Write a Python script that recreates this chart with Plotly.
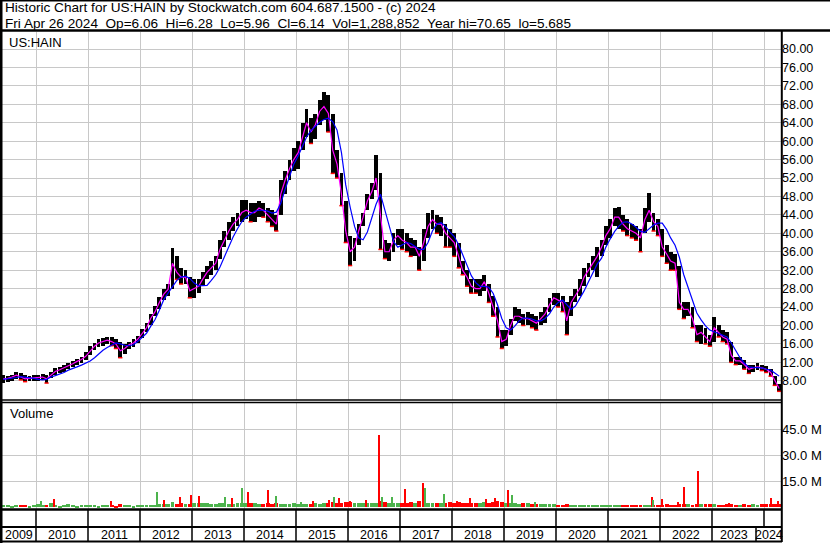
import numpy as np
import pandas as pd
import plotly.graph_objects as go

# ---------------- DATA (monthly) ----------------
months = pd.period_range("2009-05", "2024-04", freq="M")

cl = [
    8.4, 8.5, 8.8, 9.2, 8.8, 8.4, 8.5, 8.6,                                  # 2009 May-Dec
    8.6, 8.8, 8.4, 9.2, 10.0, 10.4, 10.8, 11.2, 11.7, 12.2, 12.6, 13.3,      # 2010
    14.5, 15.5, 16.2, 16.5, 16.8, 16.5, 16.0, 14.5, 15.0, 15.8, 16.2, 17.0,  # 2011
    18.3, 19.5, 21.5, 23.0, 25.0, 26.8, 27.8, 33.5, 31.5, 30.5, 30.5, 27.5,  # 2012
    28.0, 28.5, 30.0, 31.5, 32.5, 33.5, 36.5, 38.5, 40.5, 42.0, 43.0, 44.5,  # 2013
    45.0, 44.5, 44.5, 45.5, 45.0, 44.0, 43.0, 42.0, 48.5, 51.5, 54.0, 56.0,  # 2014
    57.5, 61.0, 64.0, 62.0, 63.5, 66.5, 67.5, 66.0, 58.0, 55.0, 48.5, 40.5,  # 2015
    36.0, 37.0, 40.5, 43.5, 47.0, 49.0, 52.0, 44.0, 36.0, 36.0, 38.5, 39.5,  # 2016
    38.5, 38.0, 37.0, 37.0, 35.0, 38.0, 41.5, 43.0, 42.0, 42.0, 40.0, 39.0,  # 2017
    38.0, 35.0, 32.0, 30.5, 28.5, 28.0, 28.0, 29.5, 27.0, 24.0, 21.0, 16.5,  # 2018
    17.0, 20.0, 22.0, 22.0, 21.5, 21.5, 21.0, 20.5, 21.5, 22.5, 24.5, 26.0,  # 2019
    25.5, 25.0, 21.0, 25.0, 26.5, 28.0, 30.5, 32.0, 33.5, 35.0, 37.0, 39.5,  # 2020
    41.0, 43.5, 43.5, 42.0, 41.0, 40.5, 40.0, 39.0, 43.0, 45.0, 42.5, 41.5,  # 2021
    37.0, 35.5, 34.0, 33.5, 25.0, 23.5, 23.5, 21.5, 18.0, 18.5, 17.5, 16.5,  # 2022
    19.5, 18.5, 17.5, 17.0, 13.5, 12.3, 12.3, 11.5, 10.5, 10.8, 11.0, 10.8,  # 2023
    10.5, 9.8, 8.0, 6.3,                                                     # 2024 Jan-Apr
]
hi = [
    9.2, 9.0, 9.3, 9.9, 9.7, 9.2, 9.0, 9.2,
    9.3, 9.4, 9.2, 9.8, 10.8, 11.0, 11.4, 11.8, 12.3, 12.8, 13.2, 14.2,
    15.5, 16.3, 17.0, 17.3, 17.5, 17.5, 17.0, 16.5, 16.0, 16.5, 17.0, 17.8,
    19.2, 20.5, 22.5, 24.2, 26.2, 28.0, 29.0, 36.8, 35.0, 32.5, 32.0, 30.5,
    30.0, 30.0, 31.5, 33.0, 34.0, 35.0, 38.5, 40.5, 42.5, 43.5, 44.5, 47.2,
    47.2, 46.5, 46.5, 47.0, 46.5, 45.5, 45.0, 44.0, 51.5, 53.5, 56.0, 58.5,
    60.0, 64.0, 67.0, 65.0, 66.0, 69.0, 70.7, 70.0, 66.0, 58.0, 53.0, 47.0,
    39.5, 39.0, 42.0, 44.5, 48.5, 51.0, 57.0, 53.0, 38.5, 38.0, 40.0, 41.0,
    41.0, 40.0, 39.0, 38.5, 37.0, 41.0, 44.5, 45.0, 44.0, 43.5, 42.0, 41.0,
    40.0, 38.0, 34.0, 32.0, 30.0, 30.0, 30.0, 31.0, 29.0, 26.5, 24.0, 19.0,
    19.0, 21.5, 24.0, 23.5, 22.5, 23.0, 22.5, 22.0, 23.0, 24.0, 26.0, 27.0,
    27.0, 26.5, 25.0, 26.5, 28.0, 30.0, 32.5, 33.5, 35.0, 37.0, 38.5, 41.5,
    43.0, 45.5, 45.7, 44.0, 43.0, 42.0, 41.5, 41.0, 45.5, 48.7, 44.5, 43.0,
    41.0, 37.5, 36.0, 35.5, 33.0, 25.0, 25.0, 24.0, 20.0, 20.0, 19.5, 18.0,
    21.8, 20.0, 19.0, 18.5, 16.5, 13.2, 13.2, 12.5, 11.5, 11.5, 11.8, 11.5,
    11.2, 10.5, 9.0, 7.2,
]
lo = [
    7.6, 7.8, 7.9, 8.3, 8.2, 7.8, 7.9, 8.0,
    8.0, 8.2, 7.5, 8.5, 9.3, 9.6, 10.0, 10.5, 11.0, 11.5, 11.8, 12.5,
    13.5, 14.6, 15.3, 15.6, 16.0, 15.6, 15.0, 13.0, 13.8, 14.8, 15.4, 16.2,
    17.2, 18.5, 20.0, 22.0, 23.5, 25.5, 26.5, 28.0, 30.0, 29.0, 29.0, 26.0,
    26.0, 27.0, 28.8, 30.0, 31.0, 32.0, 34.5, 37.0, 38.5, 40.5, 41.5, 42.5,
    43.0, 42.5, 42.5, 43.5, 43.5, 42.5, 41.5, 40.5, 44.0, 48.5, 51.5, 53.5,
    54.0, 58.0, 61.0, 59.5, 60.5, 63.5, 64.5, 62.0, 53.0, 52.0, 46.0, 38.0,
    33.0, 34.0, 37.5, 41.5, 45.0, 47.5, 49.5, 36.5, 34.5, 34.0, 36.0, 37.5,
    36.5, 36.0, 35.0, 35.0, 32.0, 34.0, 39.0, 41.0, 40.0, 39.5, 37.0, 37.0,
    35.0, 32.5, 31.0, 28.5, 27.0, 27.0, 26.5, 27.5, 25.0, 22.0, 17.5, 15.0,
    15.5, 18.0, 21.0, 20.5, 20.0, 20.0, 19.5, 19.0, 20.0, 20.5, 23.0, 24.5,
    24.0, 23.0, 18.0, 22.0, 25.0, 26.5, 28.5, 30.5, 32.0, 30.5, 35.0, 37.5,
    39.0, 41.5, 41.0, 40.5, 39.5, 39.0, 38.5, 36.0, 40.0, 42.5, 40.5, 39.5,
    35.0, 33.5, 32.0, 32.0, 23.5, 21.5, 22.0, 19.5, 16.5, 16.0, 16.0, 15.5,
    16.5, 17.5, 16.5, 16.0, 12.0, 11.5, 11.5, 10.5, 9.6, 10.0, 10.3, 10.2,
    9.8, 9.0, 7.0, 5.7,
]
ma_long = [
    8.3, 8.4, 8.5, 8.7, 8.9, 8.8, 8.6, 8.5,
    8.3, 8.2, 8.3, 8.8, 9.1, 9.4, 9.8, 10.3, 10.6, 11.0, 11.4, 11.8,
    12.3, 13.0, 13.8, 14.6, 15.2, 15.8, 16.2, 16.0, 15.7, 15.6, 15.8, 16.5,
    17.3, 18.3, 19.8, 21.3, 23.3, 25.6, 27.0, 28.5, 29.8, 30.5, 30.7, 30.2,
    29.2, 28.6, 28.6, 28.7, 29.8, 31.0, 32.7, 35.0, 37.0, 39.2, 41.0, 42.5,
    43.5, 44.2, 44.8, 45.0, 45.0, 44.8, 44.4, 44.6, 46.5, 49.5, 52.5, 55.0,
    56.8, 58.8, 60.9, 62.3, 63.3, 64.1, 64.7, 65.0, 64.2, 62.4, 57.5, 50.5,
    45.7, 41.5, 39.0, 38.6, 40.3, 43.5, 46.3, 48.5, 45.0, 41.5, 38.2, 37.0,
    37.5, 38.0, 37.8, 37.2, 36.5, 36.5, 38.0, 40.5, 42.0, 42.3, 41.5, 40.3,
    39.3, 37.5, 35.3, 33.0, 30.8, 29.3, 28.5, 28.5, 28.3, 27.0, 24.5, 21.5,
    19.5, 19.0, 19.8, 21.0, 21.6, 21.6, 21.4, 21.0, 21.0, 21.5, 22.5, 24.0,
    25.0, 25.5, 24.5, 23.5, 24.2, 25.8, 27.5, 29.5, 31.3, 33.3, 34.6, 37.0,
    38.8, 40.4, 41.5, 42.4, 42.5, 42.0, 41.3, 40.4, 40.2, 41.0, 41.8, 42.2,
    42.2, 40.8, 39.0, 37.4, 34.8, 31.0, 28.3, 25.8, 22.7, 21.2, 19.9, 19.0,
    18.6, 18.3, 17.9, 17.5, 16.2, 14.4, 13.0, 11.8, 11.0, 10.9, 10.9, 10.8,
    10.5, 10.3, 9.7, 9.0,
]
vol = [  # typical weekly volume, millions
    1.5, 1.2, 1.0, 1.3, 1.5, 1.2, 1.0, 1.3,
    2.0, 1.5, 1.3, 2.5, 1.2, 1.0, 1.5, 1.8, 1.2, 1.0, 1.3, 1.5,
    1.2, 1.5, 1.0, 1.3, 1.2, 1.5, 1.0, 1.8, 1.3, 1.2, 1.0, 1.4,
    1.5, 1.3, 1.6, 1.4, 2.0, 1.8, 2.2, 3.0, 2.2, 2.5, 2.0, 2.2,
    2.5, 2.8, 2.4, 2.5, 2.0, 2.2, 2.5, 2.6, 2.2, 2.0, 2.3, 2.8,
    2.5, 2.4, 2.6, 2.2, 2.0, 2.4, 2.1, 2.3, 2.0, 2.2, 2.0, 2.5,
    2.2, 2.0, 1.8, 2.0, 2.4, 2.2, 2.5, 2.8, 3.0, 2.8, 2.5, 3.0,
    3.2, 2.8, 2.5, 2.6, 2.8, 2.4, 2.5, 3.5, 3.0, 2.8, 2.6, 2.5,
    2.8, 2.5, 3.0, 2.6, 3.5, 3.0, 2.8, 2.6, 2.4, 2.5, 2.8, 3.0,
    2.8, 3.0, 2.6, 2.8, 2.5, 2.6, 2.8, 3.0, 2.6, 3.2, 3.5, 3.0,
    2.8, 2.6, 2.5, 2.2, 2.4, 2.6, 2.0, 2.2, 2.0, 1.8, 2.0, 1.8,
    1.6, 1.5, 2.0, 1.6, 1.4, 1.5, 1.3, 1.4, 1.2, 1.3, 1.4, 1.5,
    1.3, 1.5, 1.2, 1.4, 1.3, 1.2, 1.3, 1.5, 1.4, 1.6, 1.4, 1.5,
    1.6, 1.8, 1.5, 1.6, 2.2, 2.0, 1.8, 1.6, 1.8, 2.0, 1.7, 1.8,
    1.8, 1.6, 1.5, 1.7, 2.0, 1.6, 1.5, 1.7, 1.6, 1.8, 1.6, 1.7,
    1.8, 2.0, 2.2, 1.8,
]
spike_dates = [
    "2010-02-05", "2010-05-07", "2011-06-10", "2012-05-01", "2012-06-17",
    "2012-10-05", "2012-12-25", "2013-02-18", "2013-08-18", "2013-10-08",
    "2013-12-16", "2014-01-30", "2014-06-18", "2014-08-13", "2015-02-05",
    "2015-05-01", "2015-08-18", "2015-09-24", "2015-10-30", "2016-01-15",
    "2016-05-08", "2016-08-08", "2016-08-26", "2016-11-06", "2017-02-06",
    "2017-06-10", "2017-06-25", "2017-11-06", "2018-02-05", "2018-05-08",
    "2018-08-25", "2018-10-30", "2019-01-28", "2019-02-25", "2019-08-08",
    "2021-11-06", "2021-11-14", "2022-01-15", "2022-05-05", "2022-06-17",
    "2022-09-24", "2023-05-01", "2024-02-18", "2024-04-08",
]
spike_vals = [
    3.5, 4.8, 3.5, 9.0, 4.3,
    5.8, 7.4, 6.6, 5.8, 5.4,
    11.0, 9.0, 10.0, 6.7, 3.2,
    3.5, 4.1, 6.2, 5.2, 3.6,
    4.1, 41.5, 6.2, 6.2, 10.8,
    14.0, 11.5, 7.8, 4.0, 5.5,
    5.0, 5.5, 9.8, 7.3, 3.0,
    6.0, 4.3, 5.0, 3.0, 11.8,
    21.0, 2.7, 5.4, 4.0,
]
spike_cols = [
    "g", "r", "r", "g", "r",
    "r", "r", "r", "g", "r",
    "g", "r", "r", "g", "g",
    "r", "r", "g", "r", "r",
    "r", "r", "g", "g", "r",
    "r", "g", "g", "r", "r",
    "r", "r", "r", "g", "g",
    "r", "g", "r", "r", "r",
    "r", "r", "r", "r",
]
year_labels = [str(y) for y in range(2009, 2025)]
price_ticks = list(range(8, 81, 4))
vol_ticks = [15, 30, 45]

header1 = "Historic Chart for US:HAIN by Stockwatch.com 604.687.1500 - (c) 2024"
header2 = ("Fri Apr 26 2024  Op=6.06  Hi=6.28  Lo=5.96  Cl=6.14  "
           "Vol=1,288,852  Year hi=70.65  lo=5.685")

# ---------------- LAYOUT GEOMETRY ----------------
W, H = 830, 543
PL, PR, PT, PB = 2, 781, 32, 509
RED, GREEN = "#ff0000", "#4cb34c"
FONT = "Liberation Sans, Arial, sans-serif"


def fx(p):
    return (p - PL) / (PR - PL)


def fy(p):
    return (PB - p) / (PB - PT)


xd = months.to_timestamp() + pd.Timedelta(days=14)
day = 86400000
hi_a, lo_a, cl_a = np.array(hi), np.array(lo), np.array(cl)
prev = np.concatenate([[cl_a[0]], cl_a[:-1]])
down = cl_a < prev

fig = go.Figure()
# price bars
fig.add_trace(go.Bar(x=xd, y=hi_a - lo_a, base=lo_a, width=27 * day,
                     marker=dict(color="black", line=dict(width=0)),
                     xaxis="x", yaxis="y", hoverinfo="skip"))
fig.add_trace(go.Scatter(x=xd[down], y=lo_a[down], mode="markers",
                         marker=dict(symbol="line-ew", size=3,
                                     line=dict(color=RED, width=1.5)),
                         xaxis="x", yaxis="y", hoverinfo="skip"))
fig.add_trace(go.Scatter(x=xd, y=cl, mode="lines",
                         line=dict(color="#ff00ff", width=1.2),
                         xaxis="x", yaxis="y", hoverinfo="skip"))
fig.add_trace(go.Scatter(x=xd, y=ma_long, mode="lines",
                         line=dict(color="#0000ff", width=1.2),
                         xaxis="x", yaxis="y", hoverinfo="skip"))
# volume
vcols = [RED if d else GREEN for d in down]
fig.add_trace(go.Bar(x=xd, y=vol, width=27 * day,
                     marker=dict(color=vcols, line=dict(width=0)),
                     xaxis="x2", yaxis="y2", hoverinfo="skip"))
fig.add_trace(go.Bar(x=pd.to_datetime(spike_dates), y=spike_vals, width=9 * day,
                     marker=dict(color=[RED if c == "r" else GREEN for c in spike_cols],
                                 line=dict(width=0)),
                     xaxis="x2", yaxis="y2", hoverinfo="skip"))

x_range = [pd.Timestamp("2009-05-06"), pd.Timestamp("2024-04-28")]
year_starts = [pd.Timestamp(f"{y}-01-01") for y in range(2010, 2025)]
grid = "#c8c8c8"
xa = dict(type="date", range=x_range, tickvals=year_starts, showticklabels=False,
          showgrid=True, gridcolor=grid, gridwidth=1, zeroline=False,
          showline=False, ticks="")

fig.update_layout(
    width=W, height=H, margin=dict(l=PL, r=W - PR, t=PT, b=H - PB),
    paper_bgcolor="white", plot_bgcolor="white", showlegend=False,
    barmode="overlay", bargap=0,
    font=dict(family=FONT, size=12.5, color="black"),
    xaxis=dict(xa, anchor="y"),
    xaxis2=dict(xa, anchor="y2", matches="x"),
    yaxis=dict(domain=[fy(400), 1], range=[3.82, 83.69], side="right",
               tickvals=price_ticks, ticktext=[f"{v:.2f}" for v in price_ticks],
               showgrid=True, gridcolor=grid, zeroline=False, ticks="",
               showline=False, anchor="x", tickfont=dict(size=12.5)),
    yaxis2=dict(domain=[0, fy(402)], range=[-0.9, 60.8], side="right",
                tickvals=vol_ticks, ticktext=[f"{v:.1f} M" for v in vol_ticks],
                showgrid=True, gridcolor=grid, zeroline=False, ticks="",
                showline=False, anchor="x2", tickfont=dict(size=13)),
)

shapes = []


def hline(py, x0, x1, w):
    shapes.append(dict(type="line", xref="paper", yref="paper",
                       x0=fx(x0), x1=fx(x1), y0=fy(py), y1=fy(py),
                       line=dict(color="black", width=w)))


def vline(px, y0, y1, w):
    shapes.append(dict(type="line", xref="paper", yref="paper",
                       x0=fx(px), x1=fx(px), y0=fy(y0), y1=fy(y1),
                       line=dict(color="black", width=w)))


hline(0.5, 0, W, 2)
hline(30.5, 0, W, 2.5)
hline(400, 0, 782, 1.5)
hline(402.5, 0, 782, 1.5)
hline(509.5, 0, 782, 2.5)
hline(527, 0, 782, 2)
hline(541.5, 0, 782, 2)
vline(1, 0, H, 3)
vline(781.8, 30.5, 542, 2)
bounds = [36 + 52 * k for k in range(15)]
for b in bounds:
    vline(b, 509.5, 527, 1.5)
for b in bounds[:-1] + [756]:
    vline(b, 527, 541.5, 1.5)

annotations = []
cells = [PL] + bounds[:-1] + [756, 782]
for i, lab in enumerate(year_labels):
    c = (cells[i] + cells[i + 1]) / 2
    annotations.append(dict(xref="paper", yref="paper", x=fx(c), y=fy(534.5),
                            text=lab, showarrow=False, xanchor="center",
                            yanchor="middle", font=dict(size=12.5)))
nb = "\u00a0\u00a0"
annotations += [
    dict(xref="paper", yref="paper", x=fx(3), y=fy(7.8), text=header1,
         showarrow=False, xanchor="left", yanchor="middle", font=dict(size=13.6)),
    dict(xref="paper", yref="paper", x=fx(3), y=fy(23.6),
         text=header2.replace("  ", nb), showarrow=False, xanchor="left",
         yanchor="middle", font=dict(size=13.6)),
    dict(xref="paper", yref="paper", x=fx(7), y=fy(42.5), text="US:HAIN",
         showarrow=False, xanchor="left", yanchor="middle", font=dict(size=13)),
    dict(xref="paper", yref="paper", x=fx(8), y=fy(413.5), text="Volume",
         showarrow=False, xanchor="left", yanchor="middle", font=dict(size=13)),
]
fig.update_layout(shapes=shapes, annotations=annotations)

fig.write_html("out.html", config={"displayModeBar": False},
               post_script="document.body.style.margin='0';"
                           "document.body.style.overflow='hidden';")
